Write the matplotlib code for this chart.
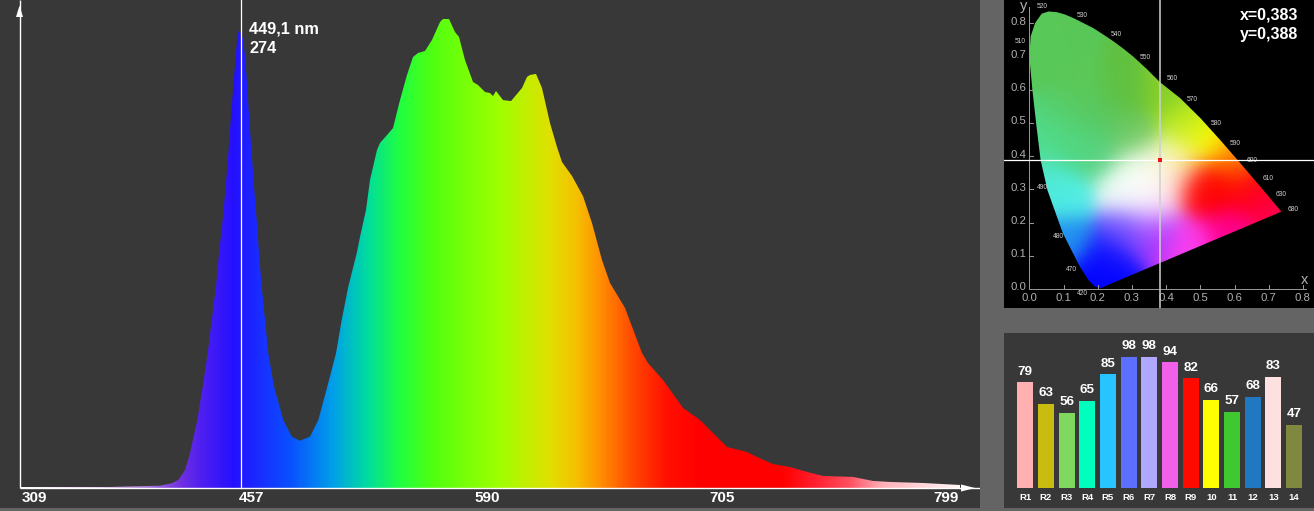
import numpy as np
import matplotlib
matplotlib.use('Agg')
import matplotlib.pyplot as plt
from matplotlib.colors import LinearSegmentedColormap, to_rgb
from matplotlib.patches import Polygon

W, H = 1314, 511
plt.rcParams['font.family'] = ['Liberation Sans', 'DejaVu Sans']

# spectrum, x is the position along the (non linear) wavelength axis
sample_x = [20, 110, 160, 171.7, 178.3, 185, 190, 197.3, 202.7, 207.7, 211.7, 216, 219, 222.7,
            225.7, 228.3, 230.7, 233.3, 236, 237.3, 239.3, 243.3, 244.7, 247.3, 249.3, 251.7, 254,
            256.7, 259, 261.7, 265, 268.3, 274, 283.3, 291.7, 300, 310, 318.3, 327.3, 336, 341.7,
            348.3, 356.7, 360, 366, 370, 377, 380, 387,
            393, 400, 407, 413, 418, 425, 432, 440, 443, 449, 455, 459, 465, 473, 478, 485, 490,
            493, 496, 503, 511, 522, 527, 530, 536, 542, 550, 557, 562, 572, 583, 592, 602, 610,
            625, 642, 648, 663, 683, 700, 713, 727, 747, 757, 773, 790, 807, 823, 853, 873, 890,
            923, 960]
sample_val = [0.6, 0.6, 1.4, 2.8, 4.8, 10.7, 20.7, 40.6, 60.5, 80.4, 100.3, 120.2, 140.1, 160,
              179.9, 199.8, 219.7, 239.6, 259.5, 269.4, 274, 267.5, 259.5, 239.6, 219.7, 199.8,
              179.9, 160, 140.1, 120.2, 100.3, 80.4, 60.5, 40.6, 30.7, 28.2, 30.7, 40.6, 60.5,
              80.4, 100.3, 120.2, 140.1, 149.9, 166, 183.9, 201.8, 206, 210.7, 214.9, 231.6, 246.6,
              257.3, 259.7,
              260.9, 267.5, 278.2, 280, 280, 272.2, 269.3, 255.5, 242.4, 240.6, 236.4, 235.8, 234,
              237, 231.6, 231, 238.8, 245.4, 246.6, 247.2, 238.8, 217.9, 203.6, 194.6, 186.3,
              174.3, 158.2, 136.1, 122.4, 107.5, 80.6, 74.6, 64.5, 47.8, 40.6, 32.8, 24.5, 21.5,
              18.5, 14.3, 12.5, 9.6, 7.2, 6.6, 4.2, 3.6, 3, 1.8]
wave_pos = [22, 239, 474, 709, 933]
wave_labels = ['309', '457', '590', '705', '799']
peak_x = 241
peak_labels = ['449,1 nm', '274']

# rainbow under the curve
grad_x = [20, 100, 150, 180, 200, 233, 290, 333, 367, 400, 433, 500, 550, 577, 600, 633, 667,
          700, 783, 817, 850, 883, 960]
grad_col = ['#ffffff', '#e4c8e8', '#a070d8', '#7030e0', '#5020f0', '#2510ff', '#0a50ff', '#00a0e8',
            '#00dca0', '#20ff40', '#50ff10', '#a0ff00', '#e0e000', '#f5c000', '#ff9000', '#ff4800',
            '#ff1000', '#ff0000', '#ff0000', '#ff2030', '#ff5060', '#ffb0b8', '#fff8f8']

# chromaticity diagram
locus_x = [0.000, 0.004, 0.017, 0.036, 0.056, 0.080, 0.104, 0.129, 0.158, 0.187, 0.217, 0.246,
           0.275, 0.304, 0.343, 0.382, 0.441, 0.500, 0.558, 0.617, 0.675, 0.737, 0.207, 0.192,
           0.173, 0.148, 0.098, 0.053, 0.033, 0.020, 0.009]
locus_y = [0.700, 0.761, 0.801, 0.829, 0.836, 0.834, 0.827, 0.816, 0.801, 0.786, 0.766, 0.746,
           0.724, 0.700, 0.663, 0.623, 0.575, 0.515, 0.449, 0.379, 0.309, 0.233, 0.002, 0.007,
           0.027, 0.067, 0.168, 0.298, 0.389, 0.499, 0.600]
blob_x = [0.06, 0.15, 0.28, 0.40, 0.46, 0.52, 0.60, 0.56, 0.50, 0.66, 0.72, 0.46, 0.58, 0.37, 0.32,
          0.36, 0.226, 0.20, 0.11, 0.11, 0.05, 0.05, 0.28, 0.43, 0.14, 0.20, 0.30, 0.27, 0.40, 0.10,
          0.20, 0.33]
blob_y = [0.70, 0.60, 0.60, 0.60, 0.50, 0.45, 0.39, 0.30, 0.30, 0.30, 0.25, 0.14, 0.18, 0.17, 0.31,
          0.25, 0.087, 0.02, 0.28, 0.15, 0.32, 0.45, 0.18, 0.39, 0.43, 0.40, 0.46, 0.30, 0.33, 0.52,
          0.52, 0.36]
blob_col = ['#58c858', '#5cc858', '#60c040', '#88d028', '#b8e820', '#ffff00', '#ff8000', '#ff0000',
            '#ff0000', '#ff0010', '#ff0050', '#ff40f0', '#ff0090', '#a030ff', '#ffffff', '#ffe8ff',
            '#1010ff', '#0000ff', '#50f0e8', '#2090f0', '#50e8d0', '#50dd90', '#7050ff', '#f8f8a0',
            '#50d880', '#58d080', '#70c860', '#f0fff8', '#fff0f0', '#55d070', '#58c860', '#f8fff0']
sigma = 0.05
cie_ticks = [0.0, 0.1, 0.2, 0.3, 0.4, 0.5, 0.6, 0.7, 0.8]
nm_labels = ['520', '530', '540', '550', '560', '570', '580', '590', '600', '610', '630', '680',
             '510', '490', '480', '470', '420']
nm_x = [0.038, 0.156, 0.254, 0.339, 0.419, 0.477, 0.546, 0.602, 0.651, 0.697, 0.736, 0.770,
        -0.027, 0.039, 0.085, 0.123, 0.156]
nm_y = [0.851, 0.823, 0.766, 0.698, 0.635, 0.572, 0.499, 0.439, 0.386, 0.334, 0.285, 0.240,
        0.745, 0.307, 0.158, 0.059, -0.014]
white_x, white_y = 0.383, 0.388

# colour rendering bars
cri_labels = ['R1', 'R2', 'R3', 'R4', 'R5', 'R6', 'R7', 'R8', 'R9', '10', '11', '12', '13', '14']
cri_values = [79, 63, 56, 65, 85, 98, 98, 94, 82, 66, 57, 68, 83, 47]
cri_colors = ['#ffb0b0', '#c8bc10', '#80d860', '#00ffbc', '#28c4ff', '#5c70ff', '#b0a8ff',
              '#f060e8', '#ff0a00', '#ffff00', '#40c830', '#2078c0', '#ffe0e0', '#808840']


def panel(x0, y0, x1, y1, color):
    # axes from a pixel box of the picture
    ax = fig.add_axes([x0 / W, 1 - y1 / H, (x1 - x0) / W, (y1 - y0) / H], facecolor=color)
    ax.set_xticks([])
    ax.set_yticks([])
    for s in ax.spines.values():
        s.set_visible(False)
    return ax


fig = plt.figure(figsize=(W / 100, H / 100), dpi=100, facecolor='#646464')

# ---- spectrum
ax = panel(0, 0, 980, 508, '#383838')
ppu = 1.675  # pixels per count
base = 488
top = base / ppu

stops = [(x - 20) / (960 - 20) for x in grad_x]
cmap = LinearSegmentedColormap.from_list('spec', list(zip(stops, grad_col)), N=1024)
im = ax.imshow(np.linspace(0, 1, 940).reshape(1, -1), cmap=cmap, vmin=0, vmax=1, aspect='auto',
               extent=(20, 960, 0, top), interpolation='bilinear', zorder=1)
outline = list(zip(sample_x, sample_val)) + [(sample_x[-1], 0), (sample_x[0], 0)]
poly = Polygon(outline, closed=True, facecolor='none', edgecolor='none', transform=ax.transData)
ax.add_patch(poly)
im.set_clip_path(poly)
ax.set_xlim(0, 980)
ax.set_ylim(-(508 - base) / ppu, top)

ax.plot([20, 20], [0, top], color='white', lw=1.0, zorder=3, solid_capstyle='butt')
ax.plot([20, 980], [0, 0], color='white', lw=1.0, zorder=3, solid_capstyle='butt')
ax.fill([16, 23, 19.5], [281.2, 281.2, 288], color='white', lw=0, zorder=3)
ax.fill([961, 961, 975], [-2.1, 2.1, 0], color='white', lw=0, zorder=3)
ax.plot([peak_x, peak_x], [0, top], color='white', lw=0.9, zorder=3)

for p, t in zip(wave_pos, wave_labels):
    ax.text(p, -5.9, t, color='white', fontsize=11, fontweight='bold', ha='left', va='center')
ax.text(249, (base - 29) / ppu, peak_labels[0], color='white', fontsize=11.7, fontweight='bold', va='center')
ax.text(249, (base - 48) / ppu, peak_labels[1], color='white', fontsize=11.7, fontweight='bold', va='center')

# ---- chromaticity
cx = panel(1004, 0, 1314, 308, 'black')
sx, sy = 342.0, 332.0  # pixels per unit
x0_px, y0_px = 1029.3, 289.0
xlim = ((1004 - x0_px) / sx, (1314 - x0_px) / sx)
ylim = ((y0_px - 308) / sy, y0_px / sy)

gx, gy = np.meshgrid(np.linspace(xlim[0], xlim[1], 320), np.linspace(ylim[0], ylim[1], 320))
bx = np.array(blob_x)[:, None, None]
by = np.array(blob_y)[:, None, None]
wt = np.exp(-((gx - bx) ** 2 + (gy - by) ** 2) / (2 * sigma ** 2)) + 1e-12
rgb = np.array([to_rgb(c) for c in blob_col])
img = np.einsum('kij,kc->ijc', wt, rgb) / wt.sum(axis=0)[:, :, None]
ci = cx.imshow(img, origin='lower', extent=(xlim[0], xlim[1], ylim[0], ylim[1]), aspect='auto',
               interpolation='bilinear', zorder=1)
shoe = Polygon(list(zip(locus_x, locus_y)), closed=True, facecolor='none', edgecolor='none',
               transform=cx.transData)
cx.add_patch(shoe)
ci.set_clip_path(shoe)
cx.set_xlim(xlim)
cx.set_ylim(ylim)

grey = '#b0b0b0'
cx.plot([0, 0, 0.81], [0.85, 0, 0], color='#9a9a9a', lw=0.7, zorder=2)
for t in cie_ticks[1:]:
    cx.plot([t, t], [0, 0.012], color='#9a9a9a', lw=0.7, zorder=2)
    cx.plot([0, 0.012], [t, t], color='#9a9a9a', lw=0.7, zorder=2)
for t in cie_ticks:
    cx.text(t, -0.027, '%.1f' % t, color=grey, fontsize=8.2, ha='center', va='center')
    cx.text(-0.01, t + 0.005, '%.1f' % t, color=grey, fontsize=8.2, ha='right', va='center')
cx.text(0.804, 0.027, 'x', color=grey, fontsize=10.5, ha='center', va='center')
cx.text(-0.016, 0.851, 'y', color=grey, fontsize=10.5, ha='center', va='center')
for t, a, b in zip(nm_labels, nm_x, nm_y):
    cx.text(a, b, t, color='#d0d0d0', fontsize=4.8, ha='center', va='center', zorder=2)

cx.axvline(white_x, color='#d0d0d0', lw=1.1, zorder=3)
cx.axhline(white_y, color='white', lw=0.9, zorder=3)
cx.plot([white_x], [white_y], 's', color='#ee1111', ms=3.4, mew=0, zorder=4)
cx.text(0.7857, 0.825, 'x=0,383', color='white', fontsize=11.5, fontweight='bold', ha='right', va='center')
cx.text(0.7857, 0.768, 'y=0,388', color='white', fontsize=11.5, fontweight='bold', ha='right', va='center')

# ---- CRI bars
bx_ax = panel(1004, 333, 1314, 508, '#383838')
step, unit = 20.67, 1.333
bx_ax.set_xlim((1004 - 1025.3) / step, (1314 - 1025.3) / step)
bx_ax.set_ylim(-(508 - 487.7) / unit, (487.7 - 333) / unit)
pos = np.arange(len(cri_values))
bx_ax.bar(pos, cri_values, width=0.77, color=cri_colors, linewidth=0)
for i, v in enumerate(cri_values):
    bx_ax.text(i, v + 5.8, str(v), color='white', fontsize=9.6, fontweight='bold', ha='center', va='baseline')
    bx_ax.text(i, -7.4, cri_labels[i], color='white', fontsize=6.8, fontweight='bold', ha='center', va='center')

fig.savefig('out.png', dpi=100, facecolor=fig.get_facecolor())
